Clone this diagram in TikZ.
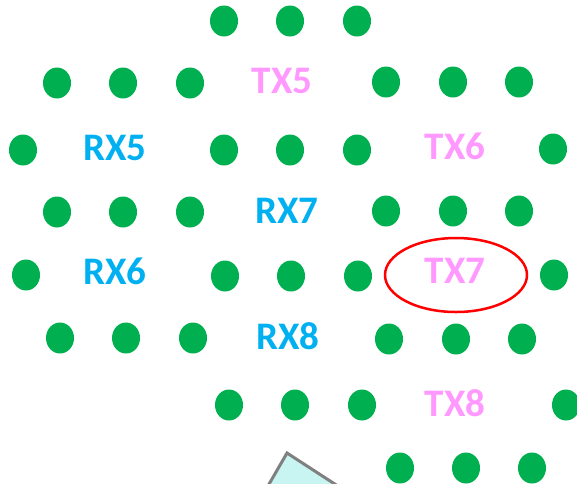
\documentclass[tikz,border=0pt]{standalone}
\usetikzlibrary{shapes.geometric}
\usepackage{fontspec}
\setmainfont{Carlito}
\definecolor{dotgreen}{HTML}{00B050}
\definecolor{txpink}{HTML}{FF99FF}
\definecolor{rxblue}{HTML}{00B0F0}
\definecolor{boxcyan}{HTML}{C8F5F2}
\definecolor{boxgray}{HTML}{808080}
\begin{document}
\begin{tikzpicture}[x=1pt,y=-1pt,
  dot/.style={ellipse, fill=dotgreen, minimum width=28pt, minimum height=31pt, inner sep=0pt},
  lbl/.style={font=\fontsize{39}{39}\selectfont\bfseries, inner sep=0pt},
  tx/.style={lbl, text=txpink},
  rx/.style={lbl, text=rxblue}]
\useasboundingbox (0,0) rectangle (577,483);
% dots
\foreach \n/\x/\y in {a1/224/21, a2/290/21, a3/357/21,
  b1/57/83, b2/123/83, b3/190/83, b4/386/82, b5/453/82, b6/519/82,
  c1/23/150, c2/224/150, c3/290/150, c4/357/150, c5/553/149,
  d1/57/212, d2/123/212, d3/190/212, d4/386/211, d5/453/211, d6/519/211,
  e1/26/275, e2/225/276, e3/291/276, e4/358/276, e5/554/275,
  f1/60/338, f2/126/338, f3/193/338, f4/389/339, f5/456/339, f6/522/339,
  g1/229/405, g2/295/405, g3/362/405, g4/566/405,
  h1/400/468, h2/466/468, h3/532/468}
  \node[dot] (\n) at (\x,\y) {};
% labels
\node[tx] (tx5) at (282,81) {TX5};
\node[rx] (rx5) at (115,148) {RX5};
\node[tx] (tx6) at (455,146) {TX6};
\node[rx] (rx7) at (287,211) {RX7};
\node[rx] (rx6) at (115,271) {RX6};
\node[tx] (tx7) at (455,271) {TX7};
\node[rx] (rx8) at (288,336) {RX8};
\node[tx] (tx8) at (455,403) {TX8};
% red ellipse around TX7
\draw[red, line width=2.5pt] (456,275) ellipse [x radius=71, y radius=37];
% cyan box partly visible at bottom
\begin{scope}
\clip (0,0) rectangle (577,483);
\draw[fill=boxcyan, draw=boxgray, line width=3pt, line join=miter]
  (287,453) -- ++(33:110) -- ++(120:60) -- ++(33:-110) -- cycle;
\end{scope}
\end{tikzpicture}
\end{document}
